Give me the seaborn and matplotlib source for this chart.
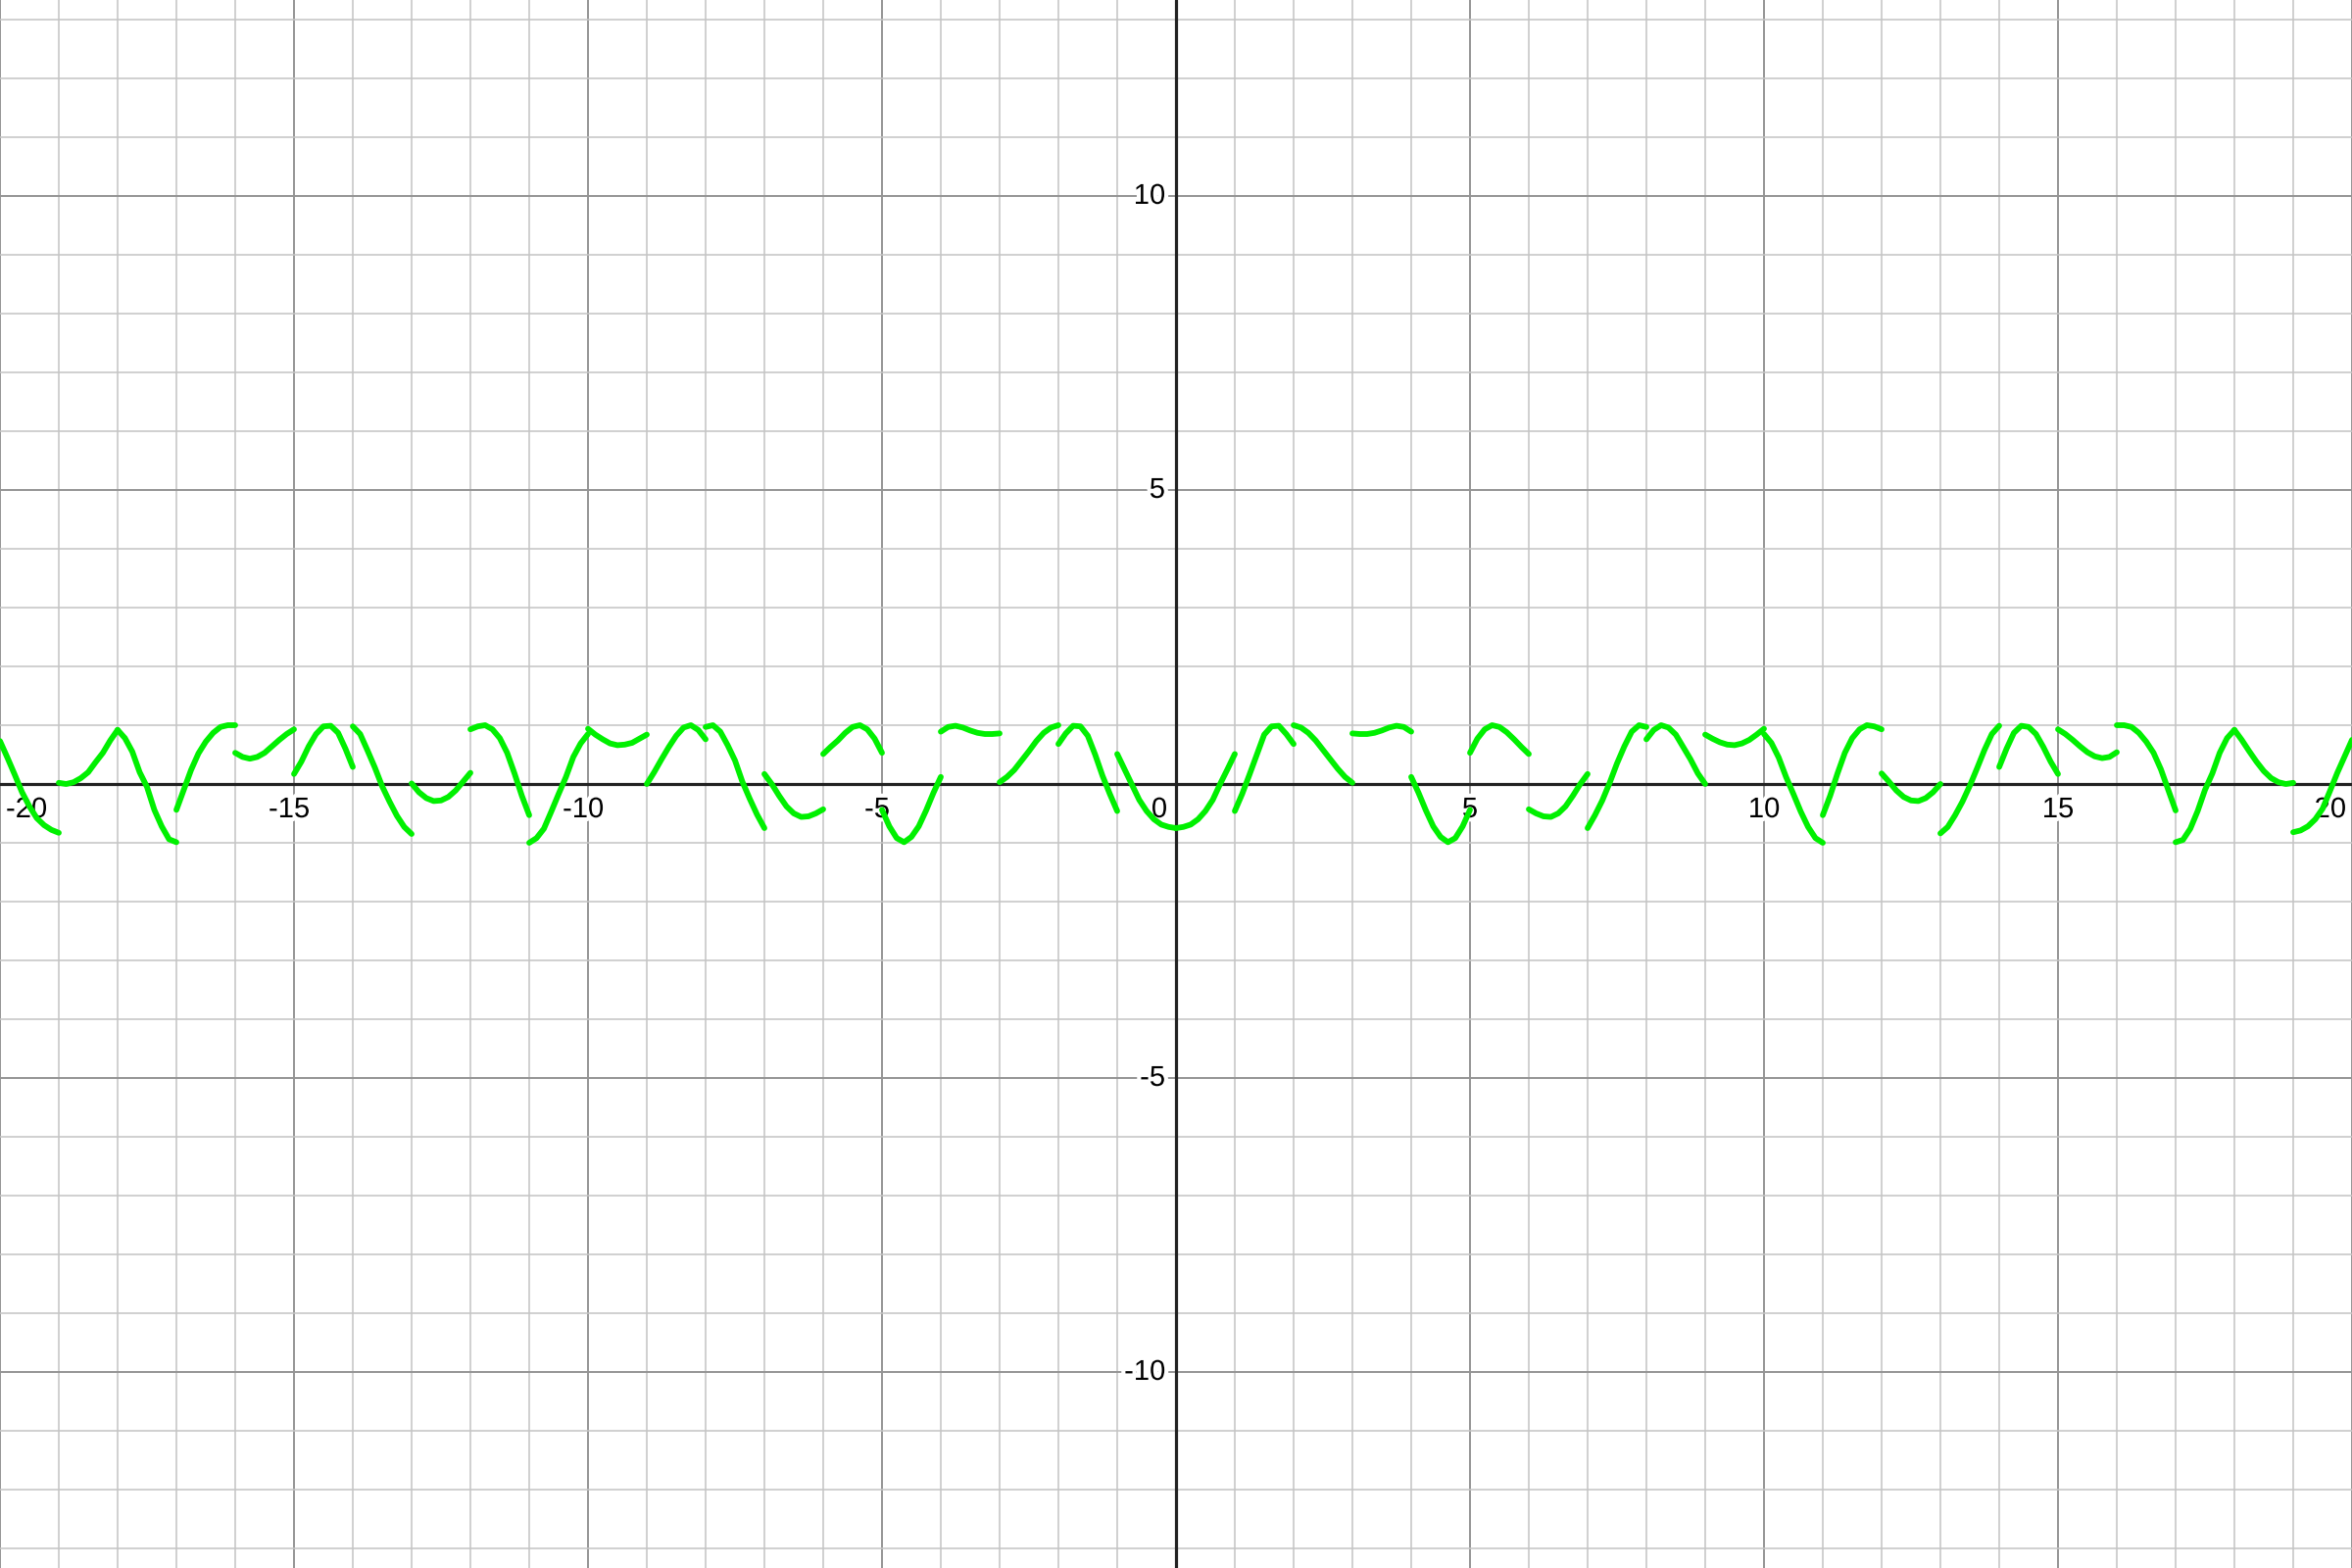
import matplotlib
matplotlib.use("Agg")
import numpy as np
import pandas as pd
import seaborn as sns
import matplotlib.pyplot as plt
from matplotlib import patheffects as pe
from matplotlib.transforms import offset_copy

# ---------------- data ----------------
# sample offsets inside each unit-wide piece
frac = [0.0, 0.125, 0.25, 0.375, 0.5, 0.625, 0.75, 0.875, 1.0]

# pieces on the left, starting at x = -20 ... -1
left_starts = list(range(-20, 0))
y_left = [
    [0.73, 0.45, 0.16, -0.14, -0.38, -0.58, -0.70, -0.78, -0.83],
    [0.02, 0.00, 0.03, 0.10, 0.20, 0.37, 0.53, 0.74, 0.92],
    [0.92, 0.78, 0.55, 0.20, -0.05, -0.44, -0.72, -0.94, -0.99],
    [-0.44, -0.10, 0.24, 0.52, 0.72, 0.87, 0.97, 1.00, 1.00],
    [0.53, 0.46, 0.43, 0.46, 0.53, 0.64, 0.75, 0.85, 0.93],
    [0.17, 0.38, 0.64, 0.85, 0.98, 0.99, 0.87, 0.60, 0.29],
    [0.98, 0.85, 0.57, 0.28, -0.04, -0.30, -0.54, -0.73, -0.85],
    [0.01, -0.14, -0.24, -0.29, -0.28, -0.22, -0.11, 0.04, 0.19],
    [0.93, 0.98, 1.00, 0.93, 0.78, 0.53, 0.18, -0.20, -0.53],
    [-1.00, -0.92, -0.76, -0.47, -0.17, 0.12, 0.46, 0.69, 0.85],
    [0.94, 0.84, 0.76, 0.69, 0.66, 0.67, 0.70, 0.77, 0.84],
    [0.00, 0.20, 0.42, 0.63, 0.82, 0.96, 1.00, 0.92, 0.76],
    [0.97, 1.00, 0.89, 0.66, 0.40, 0.04, -0.25, -0.52, -0.75],
    [0.17, 0.00, -0.20, -0.38, -0.50, -0.56, -0.55, -0.50, -0.43],
    [0.51, 0.63, 0.74, 0.87, 0.97, 1.00, 0.93, 0.77, 0.53],
    [-0.44, -0.72, -0.92, -0.99, -0.90, -0.72, -0.45, -0.15, 0.12],
    [0.89, 0.97, 0.99, 0.96, 0.91, 0.87, 0.85, 0.85, 0.86],
    [0.03, 0.12, 0.24, 0.40, 0.56, 0.73, 0.87, 0.96, 1.00],
    [0.68, 0.86, 0.99, 0.98, 0.82, 0.50, 0.14, -0.17, -0.46],
    [0.51, 0.25, -0.01, -0.27, -0.46, -0.60, -0.69, -0.73, -0.75],
]

# pieces on the right, starting at x = 0 ... 19
right_starts = list(range(0, 20))
y_right = [
    [-0.75, -0.73, -0.69, -0.60, -0.46, -0.27, 0.00, 0.25, 0.51],
    [-0.46, -0.17, 0.16, 0.50, 0.84, 0.98, 0.99, 0.85, 0.68],
    [1.00, 0.96, 0.87, 0.74, 0.58, 0.42, 0.26, 0.12, 0.02],
    [0.86, 0.85, 0.85, 0.87, 0.91, 0.96, 0.99, 0.97, 0.89],
    [0.12, -0.15, -0.45, -0.72, -0.90, -0.99, -0.92, -0.72, -0.44],
    [0.53, 0.77, 0.93, 1.00, 0.97, 0.88, 0.76, 0.63, 0.51],
    [-0.43, -0.50, -0.55, -0.56, -0.50, -0.38, -0.20, 0.00, 0.17],
    [-0.75, -0.53, -0.28, 0.02, 0.35, 0.64, 0.89, 1.00, 0.97],
    [0.76, 0.92, 1.00, 0.96, 0.84, 0.63, 0.42, 0.18, 0.00],
    [0.84, 0.77, 0.71, 0.67, 0.66, 0.69, 0.75, 0.84, 0.94],
    [0.85, 0.70, 0.45, 0.12, -0.17, -0.47, -0.73, -0.92, -1.00],
    [-0.53, -0.20, 0.18, 0.53, 0.78, 0.93, 1.00, 0.98, 0.93],
    [0.18, 0.04, -0.11, -0.22, -0.28, -0.29, -0.24, -0.14, 0.00],
    [-0.84, -0.73, -0.53, -0.30, -0.03, 0.27, 0.58, 0.85, 0.99],
    [0.29, 0.60, 0.87, 0.99, 0.97, 0.85, 0.63, 0.38, 0.17],
    [0.93, 0.85, 0.75, 0.64, 0.54, 0.47, 0.44, 0.46, 0.54],
    [1.00, 1.00, 0.97, 0.87, 0.72, 0.53, 0.25, -0.10, -0.45],
    [-0.99, -0.95, -0.76, -0.46, -0.10, 0.18, 0.53, 0.78, 0.92],
    [0.92, 0.75, 0.56, 0.38, 0.22, 0.10, 0.03, 0.00, 0.02],
    [-0.82, -0.79, -0.72, -0.60, -0.42, -0.12, 0.19, 0.47, 0.75],
]

x_label_vals = [-20, -15, -10, -5, 5, 10, 15, 20]
y_label_vals = [-10, -5, 5, 10]
origin_label = "0"

# ---------------- build table ----------------
rows = []
for starts, ys in ((left_starts, y_left), (right_starts, y_right)):
    for s, seg in zip(starts, ys):
        for f, yv in zip(frac, seg):
            rows.append((s + f, yv, s))
df = pd.DataFrame(rows, columns=["x", "y", "seg"])

# ---------------- style ----------------
sns.set_theme(style="white")
plt.rcParams["font.family"] = ["Liberation Sans", "DejaVu Sans"]

fig = plt.figure(figsize=(24, 16), dpi=100)
ax = fig.add_axes([0, 0, 1, 1])
ax.set_facecolor("white")

sns.lineplot(data=df, x="x", y="y", units="seg", estimator=None, sort=True,
             color="#00f000", linewidth=4.2, solid_capstyle="round",
             solid_joinstyle="round", legend=False, ax=ax, zorder=6)

ax.set_xlim(-20, 20)
ax.set_ylim(-13.333, 13.333)
ax.set_xticks(np.arange(-20, 21, 5))
ax.set_xticks(np.arange(-20, 21, 1), minor=True)
ax.set_yticks(np.arange(-10, 11, 5))
ax.set_yticks(np.arange(-13, 14, 1), minor=True)
ax.grid(which="minor", color="#c4c4c4", linewidth=1.1)
ax.grid(which="major", color="#949494", linewidth=1.4)
ax.set_axisbelow(True)
ax.tick_params(which="both", length=0, labelbottom=False, labelleft=False)
for sp in ax.spines.values():
    sp.set_visible(False)
ax.set_xlabel("")
ax.set_ylabel("")

ax.axhline(0, color="#222222", linewidth=2.3, zorder=3)
ax.axvline(0, color="#222222", linewidth=2.3, zorder=3)

halo = [pe.withStroke(linewidth=6, foreground="white")]
fs = 21

for v in x_label_vals:
    if v == -20:
        ha, dx = "left", 6
    elif v == 20:
        ha, dx = "right", -6
    else:
        ha, dx = "center", (-5 if v < 0 else 0)
    tr = offset_copy(ax.transData, fig=fig, x=dx, y=-12, units="dots")
    ax.text(v, 0, str(v), transform=tr, ha=ha, va="top", fontsize=fs,
            color="black", path_effects=halo, zorder=4)

for v in y_label_vals:
    tr = offset_copy(ax.transData, fig=fig, x=-11, y=0, units="dots")
    ax.text(0, v, str(v), transform=tr, ha="right", va="center", fontsize=fs,
            color="black", path_effects=halo, zorder=4)

tr0 = offset_copy(ax.transData, fig=fig, x=-9, y=-12, units="dots")
ax.text(0, 0, origin_label, transform=tr0, ha="right", va="top", fontsize=fs,
        color="black", path_effects=halo, zorder=4)

fig.savefig("out.png", dpi=100, facecolor="white")
